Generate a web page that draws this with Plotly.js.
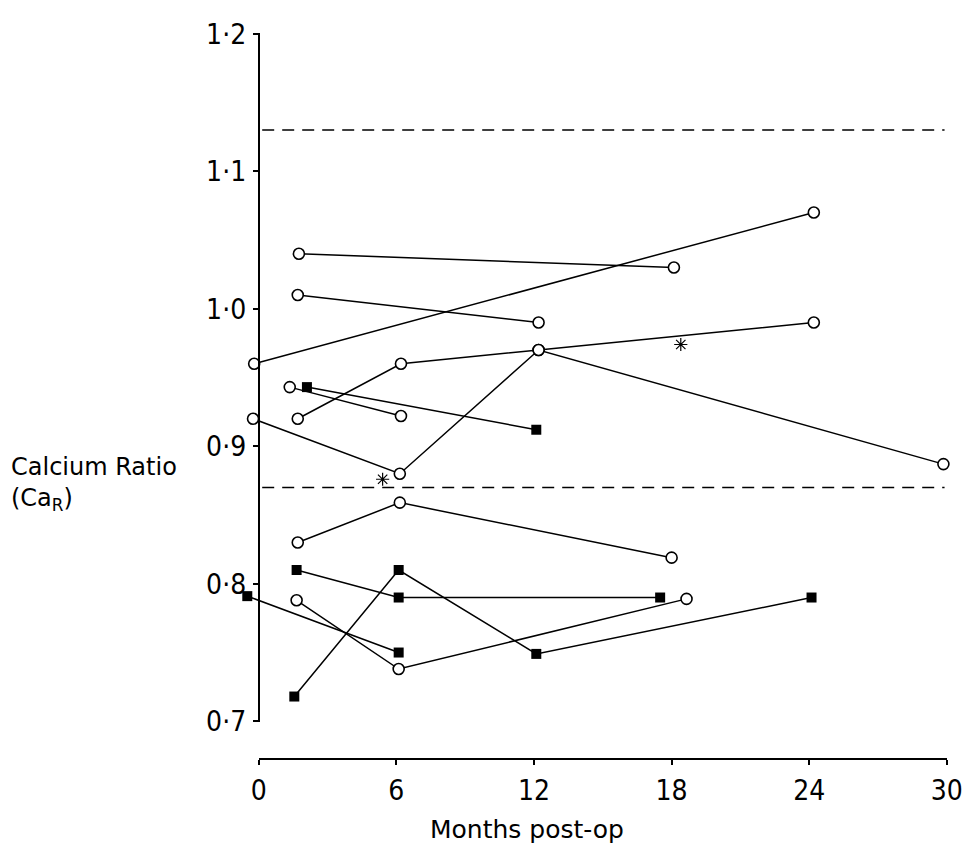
<!DOCTYPE html>
<html>
<head>
<meta charset="utf-8">
<script src="https://cdn.plot.ly/plotly-3.0.1.min.js"></script>
<style>html,body{margin:0;padding:0;background:#fff;}#chart{width:969px;height:855px;}</style>
</head>
<body>
<div id="chart"></div>
<script>
// ---- data (months post-op, calcium ratio) ----
const xTickVals = [0, 6, 12, 18, 24, 30];
const xTickText = ["0", "6", "12", "18", "24", "30"];
const yTickVals = [0.7, 0.8, 0.9, 1.0, 1.1, 1.2];
const yTickText = ["0·7", "0·8", "0·9", "1·0", "1·1", "1·2"];

const refX = [0.15, 29.9];
const refLow = [0.87, 0.87];
const refHigh = [1.13, 1.13];

// open-circle patients
const cA_x = [1.75, 18.1];            const cA_y = [1.04, 1.03];
const cB_x = [1.7, 12.2];             const cB_y = [1.01, 0.99];
const cC_x = [-0.2, 24.2];            const cC_y = [0.96, 1.07];
const cD_x = [1.7, 6.2, 12.2, 24.2];  const cD_y = [0.92, 0.96, 0.97, 0.99];
const cE_x = [-0.25, 6.15, 12.2, 29.85]; const cE_y = [0.92, 0.88, 0.97, 0.887];
const cF_x = [1.35, 6.2];             const cF_y = [0.943, 0.922];
const cH_x = [1.7, 6.15, 18.0];       const cH_y = [0.83, 0.859, 0.819];
const cK_x = [1.65, 6.1, 18.65];      const cK_y = [0.788, 0.738, 0.789];

// filled-square patients
const sG_x = [2.1, 12.1];             const sG_y = [0.943, 0.912];
const sI_x = [1.65, 6.1, 17.5];       const sI_y = [0.81, 0.79, 0.79];
const sJ_x = [-0.5, 6.1];             const sJ_y = [0.791, 0.75];
const sL_x = [1.55, 6.1, 12.1, 24.1]; const sL_y = [0.718, 0.81, 0.749, 0.79];

// asterisks
const starX = [5.4, 18.4];
const starY = [0.876, 0.974];

// ---- styling ----
const TICKFONT = "Liberation Sans Narrow, DejaVu Sans Condensed, sans-serif";
const TITLEFONT = "DejaVu Sans, sans-serif";
const circ = {symbol: "circle", size: 11, color: "#fff", line: {color: "#000", width: 1.6}};
const sq = {symbol: "square", size: 10, color: "#000", line: {color: "#000", width: 0}};
const ln = {color: "#000", width: 1.5};

function tr(x, y, marker) {
  return {x: x, y: y, type: "scatter", mode: "lines+markers", line: ln, marker: marker,
          cliponaxis: false, showlegend: false, hoverinfo: "skip"};
}

const XMIN = -0.6, XMAX = 30.05;
const x0frac = (0 - XMIN) / (XMAX - XMIN);
const x30frac = (30 - XMIN) / (XMAX - XMIN);

const traces = [
  {x: refX, y: refHigh, type: "scatter", mode: "lines", line: {color: "#000", width: 1.6, dash: "12px,8px"}, showlegend: false, hoverinfo: "skip"},
  {x: refX, y: refLow, type: "scatter", mode: "lines", line: {color: "#000", width: 1.6, dash: "12px,8px"}, showlegend: false, hoverinfo: "skip"},
  tr(cA_x, cA_y, circ), tr(cB_x, cB_y, circ), tr(cC_x, cC_y, circ),
  tr(cD_x, cD_y, circ), tr(cE_x, cE_y, circ), tr(cF_x, cF_y, circ),
  tr(cH_x, cH_y, circ), tr(cK_x, cK_y, circ),
  tr(sG_x, sG_y, sq), tr(sI_x, sI_y, sq), tr(sJ_x, sJ_y, sq), tr(sL_x, sL_y, sq),
  {x: starX, y: starY, type: "scatter", mode: "markers", cliponaxis: false,
   marker: {symbol: "asterisk-open", size: 11, color: "#000", line: {color: "#000", width: 1.2}}, showlegend: false, hoverinfo: "skip"},
  // carrier for the visible months axis
  {x: xTickVals, y: [0.75, 0.75, 0.75, 0.75, 0.75, 0.75], xaxis: "x2", yaxis: "y", type: "scatter", mode: "markers",
   marker: {opacity: 0}, showlegend: false, hoverinfo: "skip"}
];

const layout = {
  width: 969, height: 855,
  margin: {l: 245.2, r: 21, t: 33, b: 96},
  paper_bgcolor: "#fff", plot_bgcolor: "rgba(0,0,0,0)",
  font: {family: TITLEFONT, color: "#000"},
  xaxis: {
    range: [XMIN, XMAX], visible: false, showgrid: false, zeroline: false, domain: [0, 1]
  },
  xaxis2: {
    range: [0, 30], domain: [x0frac, x30frac], tickvals: xTickVals, ticktext: xTickText,
    showgrid: false, zeroline: false, showline: true, linecolor: "#000", linewidth: 2,
    ticks: "outside", ticklen: 5, tickwidth: 2, tickcolor: "#000",
    tickfont: {family: TICKFONT, size: 28, color: "#000"},
    anchor: "free", position: 0, ticklabelstandoff: 1
  },
  yaxis: {
    range: [0.6995, 1.2005], domain: [0.051, 1], tickvals: yTickVals, ticktext: yTickText,
    showgrid: false, zeroline: false, showline: true, linecolor: "#000", linewidth: 2,
    ticks: "outside", ticklen: 5, tickwidth: 2, tickcolor: "#000",
    tickfont: {family: TICKFONT, size: 28, color: "#000"},
    anchor: "free", position: x0frac, ticklabelstandoff: 1
  },
  annotations: [
    {text: "Months post-op", xref: "paper", yref: "paper", x: 0.401, y: -0.097,
     xanchor: "center", yanchor: "middle", showarrow: false, font: {family: TITLEFONT, size: 25, color: "#000"}},
    {text: "Calcium Ratio", xref: "paper", yref: "paper", x: -0.335, y: 0.402,
     xanchor: "left", yanchor: "middle", showarrow: false, font: {family: TITLEFONT, size: 24, color: "#000"}},
    {text: "(Ca<sub>R</sub>)", xref: "paper", yref: "paper", x: -0.335, y: 0.357,
     xanchor: "left", yanchor: "middle", showarrow: false, font: {family: TITLEFONT, size: 24, color: "#000"}}
  ]
};

Plotly.newPlot("chart", traces, layout, {staticPlot: true, displayModeBar: false});
</script>
</body>
</html>
